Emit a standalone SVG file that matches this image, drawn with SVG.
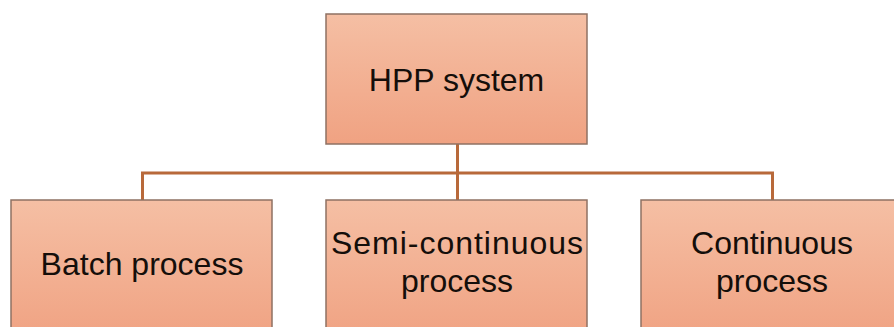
<svg xmlns="http://www.w3.org/2000/svg" width="894" height="327" viewBox="0 0 894 327">
  <defs>
    <linearGradient id="boxFill" x1="0" y1="0" x2="0" y2="1">
      <stop offset="0" stop-color="#f5bfa4"/>
      <stop offset="1" stop-color="#f0a282"/>
    </linearGradient>
    <style>
      .box { fill: url(#boxFill); stroke: #8f7163; stroke-width: 1.5; }
      .label { font-family: "Liberation Sans", Arial, sans-serif; font-size: 32px; fill: #140e0a; text-anchor: middle; }
      .link { fill: none; stroke: #b8693a; stroke-width: 3; }
    </style>
  </defs>
  <rect width="894" height="327" fill="#ffffff"/>

  <!-- connectors -->
  <g id="connectors">
    <path class="link" d="M457.5 144 V173"/>
    <path class="link" d="M142.5 200 V173 H772.5 V200"/>
    <path class="link" d="M457.5 173 V200"/>
  </g>

  <g id="hpp-system">
    <rect class="box" x="326" y="14" width="261" height="130"/>
    <text class="label" x="456.5" y="91">HPP system</text>
  </g>

  <g id="batch-process">
    <rect class="box" x="11" y="200" width="261" height="140"/>
    <text class="label" x="142" y="275">Batch process</text>
  </g>

  <g id="semi-continuous-process">
    <rect class="box" x="326" y="200" width="261" height="140"/>
    <text class="label" x="457" y="254" textLength="252" lengthAdjust="spacing">Semi-continuous</text>
    <text class="label" x="457" y="292">process</text>
  </g>

  <g id="continuous-process">
    <rect class="box" x="641" y="200" width="262" height="140"/>
    <text class="label" x="772" y="254">Continuous</text>
    <text class="label" x="772" y="292">process</text>
  </g>
</svg>
